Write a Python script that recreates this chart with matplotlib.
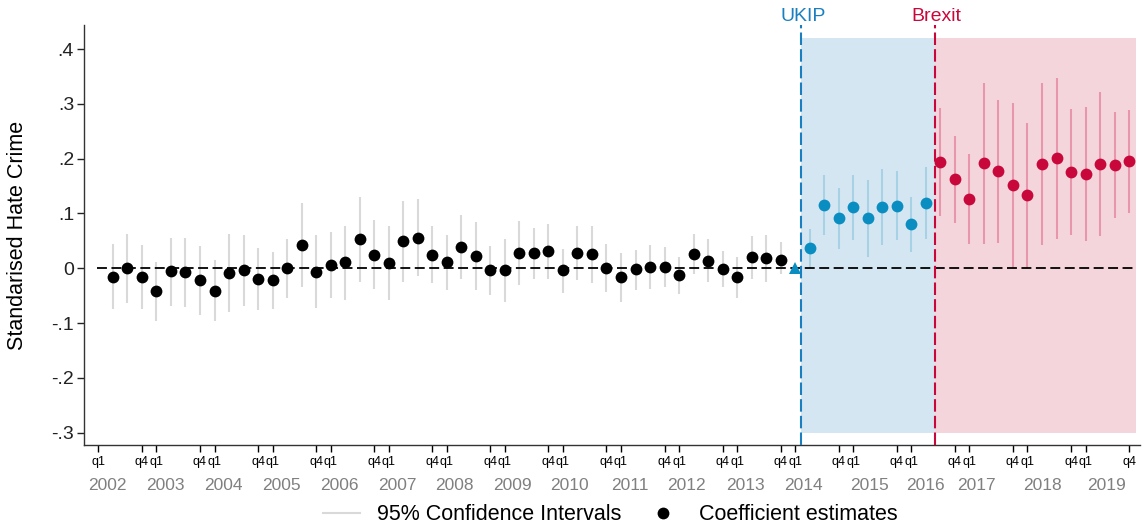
#!/usr/bin/env python3
"""Event-study plot: standardised hate crime by quarter, UKIP / Brexit periods."""
import matplotlib
matplotlib.use("Agg")
import matplotlib.pyplot as plt
from matplotlib.lines import Line2D

plt.rcParams["font.family"] = ["Liberation Sans", "DejaVu Sans"]

# quarter index: 0 = 2002q1
YEARS = list(range(2002, 2020))
# year label offset (in quarters) after each year's q1 tick
YEAR_OFFSET = [0.63, 0.6, 0.6, 0.6, 0.57, 0.57, 0.53, 0.5, 0.48,
               0.58, 0.54, 0.58, 0.6, 1.14, 1.0, 0.5, 1.05, 1.45]

# pre-period, 2002q2 .. 2013q4
black_est = [-0.016, 0.001, -0.016, -0.042, -0.005, -0.007, -0.021, -0.041,
             -0.008, -0.004, -0.019, -0.022, 0.001, 0.043, -0.006, 0.006,
             0.011, 0.054, 0.025, 0.010, 0.050, 0.056, 0.025, 0.011, 0.039,
             0.022, -0.004, -0.004, 0.028, 0.027, 0.031, -0.004, 0.028, 0.026,
             0.001, -0.016, -0.001, 0.003, 0.002, -0.013, 0.026, 0.014, -0.001,
             -0.016, 0.021, 0.018, 0.016]
black_hi = [0.044, 0.063, 0.043, 0.011, 0.056, 0.056, 0.041, 0.016, 0.063,
            0.061, 0.037, 0.029, 0.053, 0.120, 0.060, 0.066, 0.077, 0.130,
            0.088, 0.078, 0.123, 0.127, 0.077, 0.061, 0.097, 0.084, 0.040,
            0.053, 0.086, 0.073, 0.080, 0.035, 0.077, 0.078, 0.045, 0.028,
            0.033, 0.043, 0.038, 0.021, 0.063, 0.053, 0.032, 0.021, 0.059,
            0.061, 0.048]
black_lo = [-0.075, -0.063, -0.075, -0.096, -0.069, -0.070, -0.085, -0.097,
            -0.080, -0.069, -0.077, -0.075, -0.054, -0.035, -0.072, -0.054,
            -0.057, -0.025, -0.038, -0.058, -0.025, -0.015, -0.027, -0.040,
            -0.020, -0.040, -0.048, -0.061, -0.030, -0.020, -0.020, -0.045,
            -0.021, -0.027, -0.043, -0.061, -0.039, -0.038, -0.034, -0.047,
            -0.011, -0.025, -0.034, -0.055, -0.019, -0.025, -0.011]

# reference quarter 2014q1
ref_q, ref_val = 48, 0.0

# UKIP period, 2014q2 .. 2016q2
blue_est = [0.037, 0.116, 0.091, 0.111, 0.091, 0.111, 0.114, 0.080, 0.120]
blue_hi = [0.071, 0.170, 0.147, 0.170, 0.162, 0.181, 0.177, 0.130, 0.184]
blue_lo = [0.001, 0.061, 0.035, 0.052, 0.021, 0.042, 0.051, 0.029, 0.054]

# Brexit period, 2016q3 .. 2019q4
red_est = [0.194, 0.163, 0.126, 0.192, 0.178, 0.152, 0.134, 0.190, 0.201,
           0.176, 0.172, 0.190, 0.189, 0.195]
red_hi = [0.293, 0.242, 0.209, 0.338, 0.308, 0.302, 0.266, 0.338, 0.347,
          0.291, 0.294, 0.321, 0.285, 0.288]
red_lo = [0.095, 0.083, 0.044, 0.045, 0.047, 0.001, 0.001, 0.042, 0.054,
          0.061, 0.049, 0.059, 0.092, 0.100]

UKIP_X, BREXIT_X, SHADE_END = 48.43, 57.6, 71.47
SHADE_LO, SHADE_HI = -0.3, 0.42

BLUE = "#0a8dc1"
RED = "#c8073a"
GREY_CI = "#d9d9d9"


def draw_series(ax, start, est, lo, hi, color, ci_color, ci_alpha=1.0):
    xs = list(range(start, start + len(est)))
    ax.vlines(xs, lo, hi, color=ci_color, alpha=ci_alpha, lw=1.5, zorder=2)
    ax.plot(xs, est, "o", color=color, ms=8.5, mew=0, zorder=4)


def main():
    fig = plt.figure(figsize=(11.47, 5.26), dpi=100)
    ax = fig.add_axes([0.0731, 0.154, 0.9208, 0.7985])

    ax.fill_between([UKIP_X, BREXIT_X], SHADE_LO, SHADE_HI,
                    color="#d4e6f1", lw=0, zorder=0)
    ax.fill_between([BREXIT_X, SHADE_END], SHADE_LO, SHADE_HI,
                    color="#f5d5dc", lw=0, zorder=0)

    ax.hlines(0, -0.1, 71.4, color="black", lw=1.3,
              linestyles=(0, (5.5, 2.5)), zorder=3)
    ax.axvline(UKIP_X, color="#1a7fc0", lw=1.5, ls=(0, (6, 2)), zorder=3)
    ax.axvline(BREXIT_X, color=RED, lw=1.5, ls=(0, (6, 2)), zorder=3)

    draw_series(ax, 1, black_est, black_lo, black_hi, "black", GREY_CI)
    draw_series(ax, 49, blue_est, blue_lo, blue_hi, BLUE, BLUE, 0.22)
    draw_series(ax, 58, red_est, red_lo, red_hi, RED, RED, 0.3)
    ax.plot([ref_q], [ref_val], "^", color=BLUE, ms=9, mew=0, zorder=4)

    ax.set_xlim(-1.0, 71.75)
    ax.set_ylim(-0.3225, 0.444)

    yt = [-0.3, -0.2, -0.1, 0, 0.1, 0.2, 0.3, 0.4]
    ax.set_yticks(yt)
    ax.set_yticklabels([("-" if v < 0 else "") + (f"{abs(v):.1f}"[1:] if v else "0")
                        for v in yt])
    ax.tick_params(axis="y", labelsize=14, length=5, width=1, pad=2,
                   colors="#222222")

    xt, xl = [], []
    for i, y in enumerate(YEARS):
        xt += [4 * i, 4 * i + 3]
        xl += ["q1", "q4"]
    ax.set_xticks(xt)
    ax.set_xticklabels(xl)
    ax.tick_params(axis="x", labelsize=9, length=5, width=1, pad=3)

    for i, y in enumerate(YEARS):
        ax.annotate(str(y), xy=(4 * i + YEAR_OFFSET[i], 0),
                    xycoords=("data", "axes fraction"),
                    xytext=(0, -29), textcoords="offset points",
                    ha="center", va="center", fontsize=12.5, color="#808080")

    for x, txt, c in [(UKIP_X, "UKIP", "#1a7fc0"), (BREXIT_X, "Brexit", RED)]:
        ax.annotate(txt, xy=(x, 1), xycoords=("data", "axes fraction"),
                    xytext=(1, 3), textcoords="offset points",
                    ha="center", va="baseline", fontsize=14, color=c)

    for s in ("top", "right"):
        ax.spines[s].set_visible(False)
    for s in ("left", "bottom"):
        ax.spines[s].set_color("#333333")
        ax.spines[s].set_linewidth(1)

    ax.set_ylabel("Standarised Hate Crime", fontsize=15.5)
    ax.yaxis.set_label_coords(-0.053, 0.5)

    handles = [
        Line2D([], [], color=GREY_CI, lw=1.5),
        Line2D([], [], color="black", marker="o", ls="", ms=8.5, mew=0),
    ]
    fig.legend(handles, ["95% Confidence Intervals", "Coefficient estimates"],
               loc="center", bbox_to_anchor=(0.532, 0.021), ncol=2,
               frameon=False, fontsize=15.5, handlelength=1.7,
               columnspacing=1.1, handletextpad=0.8)

    fig.savefig("out.png", dpi=100)


if __name__ == "__main__":
    main()
